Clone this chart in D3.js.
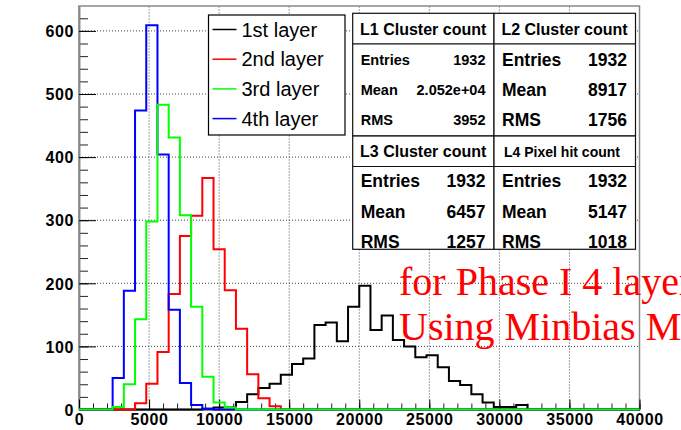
<!DOCTYPE html>
<html>
<head>
<meta charset="utf-8">
<script src="https://cdn.jsdelivr.net/npm/d3@7/dist/d3.min.js"></script>
<style>
    body { margin: 0; background: #fff; }
    svg { display: block; font-family: "Liberation Sans", Arial, Helvetica, sans-serif; }
</style>
</head>
<body>
<div id="chart"></div>
<script>
// histogram binning: 50 bins of 800 between 0 and 40000
const binWidth = 800;
const xTicks = [0, 5000, 10000, 15000, 20000, 25000, 30000, 35000, 40000];
const yTicks = [0, 100, 200, 300, 400, 500, 600];

// counts per bin
const layer1 = [0, 0, 0, 0, 0, 0, 0, 0, 0, 0,
                0, 1, 3, 3, 12, 24, 34, 41, 55, 72,
                81, 134, 138, 108, 163, 196, 126, 149, 110, 100,
                83, 86, 67, 45, 39, 24, 11, 4, 4, 7,
                0, 0, 0, 0, 0, 0, 0, 0, 0, 0];
const layer2 = [0, 0, 0, 0, 0, 10, 41, 91, 183, 275,
                307, 367, 254, 189, 128, 56, 18, 5, 0, 0,
                0, 0, 0, 0, 0, 0, 0, 0, 0, 0,
                0, 0, 0, 0, 0, 0, 0, 0, 0, 0,
                0, 0, 0, 0, 0, 0, 0, 0, 0, 0];
const layer3 = [0, 0, 0, 4, 40, 143, 298, 483, 431, 308,
                163, 52, 11, 3, 0, 0, 0, 0, 0, 0,
                0, 0, 0, 0, 0, 0, 0, 0, 0, 0,
                0, 0, 0, 0, 0, 0, 0, 0, 0, 0,
                0, 0, 0, 0, 0, 0, 0, 0, 0, 0];
const layer4 = [0, 0, 0, 50, 188, 474, 609, 404, 158, 42,
                7, 1, 0, 0, 0, 0, 0, 0, 0, 0,
                0, 0, 0, 0, 0, 0, 0, 0, 0, 0,
                0, 0, 0, 0, 0, 0, 0, 0, 0, 0,
                0, 0, 0, 0, 0, 0, 0, 0, 0, 0];

const legendLabels = ["1st layer", "2nd layer", "3rd layer", "4th layer"];
const layerColors = ["#000000", "#ff0000", "#00ff00", "#0000ff"];

// statistics boxes
const statTitles = ["L1 Cluster count", "L2 Cluster count", "L3 Cluster count", "L4 Pixel hit count"];
const statEntries = ["1932", "1932", "1932", "1932"];
const statMeans = ["2.052e+04", "8917", "6457", "5147"];
const statRms = ["3952", "1756", "1257", "1018"];

const noteLines = ["for Phase I 4 layers", "Using Minbias MC"];

class histChart {

    constructor(parentElement) {
        this.parentElement = parentElement;
        this.series = [layer1, layer2, layer3, layer4];
        this.initVis();
    }

    initVis() {
        let vis = this;

        vis.totalWidth = 681;
        vis.totalHeight = 430;
        vis.margin = { top: 6, right: 41.5, bottom: 20.5, left: 79 };
        vis.width = vis.totalWidth - vis.margin.left - vis.margin.right;
        vis.height = vis.totalHeight - vis.margin.top - vis.margin.bottom;

        vis.root = d3.select("#" + vis.parentElement)
            .append("svg")
            .attr("width", vis.totalWidth)
            .attr("height", vis.totalHeight);

        vis.root.append("rect")
            .attr("width", vis.totalWidth)
            .attr("height", vis.totalHeight)
            .attr("fill", "#fff");

        vis.svg = vis.root.append("g")
            .attr("transform", `translate(${vis.margin.left},${vis.margin.top})`);

        // scales (ROOT puts the max at 1.05 x the highest bin)
        vis.x = d3.scaleLinear()
            .domain([0, 40000])
            .range([0, vis.width]);

        vis.y = d3.scaleLinear()
            .domain([0, d3.max(vis.series, s => d3.max(s)) * 1.05])
            .range([vis.height, 0]);

        vis.drawGrid();
        vis.drawAxes();
        vis.drawHistograms();
        vis.drawLegend();
        vis.drawStats();
        vis.drawNote();
    }

    drawGrid() {
        let vis = this;

        vis.svg.append("g")
            .selectAll("line")
            .data(xTicks.filter(d => d > 0 && d < 40000))
            .join("line")
            .attr("x1", d => vis.x(d))
            .attr("x2", d => vis.x(d))
            .attr("y1", vis.height)
            .attr("y2", 0)
            .attr("stroke", "#444")
            .attr("stroke-dasharray", "1,2");

        vis.svg.append("g")
            .selectAll("line")
            .data(yTicks.filter(d => d > 0))
            .join("line")
            .attr("x1", 0)
            .attr("x2", vis.width)
            .attr("y1", d => vis.y(d))
            .attr("y2", d => vis.y(d))
            .attr("stroke", "#444")
            .attr("stroke-dasharray", "1,2");

        // frame
        vis.svg.append("rect")
            .attr("width", vis.width)
            .attr("height", vis.height)
            .attr("fill", "none")
            .attr("stroke", "#888")
            .attr("stroke-width", 1.5);
    }

    drawAxes() {
        let vis = this;

        // minor ticks
        vis.svg.append("g")
            .attr("class", "y-minor")
            .call(d3.axisLeft(vis.y).tickValues(d3.range(0, 621, 20)).tickSizeInner(-9).tickSizeOuter(0).tickFormat(""));
        vis.svg.append("g")
            .attr("class", "x-minor")
            .attr("transform", `translate(0,${vis.height})`)
            .call(d3.axisBottom(vis.x).tickValues(d3.range(0, 40001, 1000)).tickSizeInner(-6).tickSizeOuter(0).tickFormat(""));

        // major ticks + labels
        vis.yAxis = d3.axisLeft(vis.y)
            .tickValues(yTicks)
            .tickSizeInner(-17)
            .tickSizeOuter(0)
            .tickPadding(5)
            .tickFormat(d3.format("d"));

        vis.xAxis = d3.axisBottom(vis.x)
            .tickValues(xTicks)
            .tickSizeInner(-10)
            .tickSizeOuter(0)
            .tickPadding(6)
            .tickFormat(d3.format("d"));

        vis.svg.append("g")
            .attr("class", "y-axis axis")
            .call(vis.yAxis);

        vis.svg.append("g")
            .attr("class", "x-axis axis")
            .attr("transform", `translate(0,${vis.height})`)
            .call(vis.xAxis);

        vis.svg.selectAll(".y-minor line, .x-minor line")
            .attr("stroke", "#222");
        vis.svg.selectAll(".axis line").attr("stroke", "#000");
        vis.svg.selectAll(".domain").attr("stroke", "#888").attr("stroke-width", 1.5);

        vis.svg.selectAll(".axis text")
            .attr("font-size", 16)
            .attr("font-weight", "bold")
            .attr("letter-spacing", 0.6)
            .attr("fill", "#000");

        vis.svg.selectAll(".y-axis text")
            .attr("dy", "0.36em");
        vis.svg.selectAll(".x-axis text")
            .attr("dy", "0.62em");
    }

    drawHistograms() {
        let vis = this;

        let line = d3.line()
            .x(d => vis.x(d[0]))
            .y(d => vis.y(d[1]))
            .curve(d3.curveStepAfter);

        // drawing order as in the picture: black, red, blue, green on top
        let order = [0, 1, 3, 2];
        order.forEach(i => {
            let counts = vis.series[i];
            let pts = counts.map((c, k) => [k * binWidth, c]);
            pts.push([counts.length * binWidth, counts[counts.length - 1]]);
            vis.svg.append("path")
                .datum(pts)
                .attr("d", line)
                .attr("fill", "none")
                .attr("stroke", layerColors[i])
                .attr("stroke-width", 2);
        });
    }

    drawLegend() {
        let vis = this;

        let lg = vis.root.append("g").attr("transform", "translate(208.5,15)");
        lg.append("rect")
            .attr("width", 136.5)
            .attr("height", 120)
            .attr("fill", "#fff")
            .attr("stroke", "#000")
            .attr("stroke-width", 1.2);

        let rows = lg.selectAll("g.entry")
            .data(legendLabels)
            .join("g")
            .attr("class", "entry")
            .attr("transform", (d, i) => `translate(0,${14.5 + i * 29.7})`);

        rows.append("line")
            .attr("x1", 4)
            .attr("x2", 28)
            .attr("stroke", (d, i) => layerColors[i])
            .attr("stroke-width", 1.5);

        rows.append("text")
            .attr("x", 33)
            .attr("y", 7)
            .attr("font-size", 20)
            .attr("fill", "#000")
            .text(d => d);
    }

    drawStats() {
        let vis = this;

        let boxes = [
            { x: 352.7, y: 13.3, w: 141.3, h: 122.7, titleSize: 16, titleX: 70.5, textSize: 14.5, top: 46.5, gap: 30 },
            { x: 494, y: 13.3, w: 141.5, h: 122.7, titleSize: 16, titleX: 70.5, textSize: 17.5, top: 46.5, gap: 30 },
            { x: 352.7, y: 136, w: 141.3, h: 113.3, titleSize: 16, titleX: 70.5, textSize: 17.5, top: 45, gap: 30.3 },
            { x: 494, y: 136, w: 141.5, h: 113.3, titleSize: 14, titleX: 68, textSize: 17.5, top: 45, gap: 30.3 }
        ];

        boxes.forEach((b, i) => {
            let g = vis.root.append("g").attr("transform", `translate(${b.x},${b.y})`);
            g.append("rect")
                .attr("width", b.w)
                .attr("height", b.h)
                .attr("fill", "#fff")
                .attr("stroke", "#111")
                .attr("stroke-width", 1.2);
            g.append("line")
                .attr("x1", 0).attr("x2", b.w)
                .attr("y1", 30.5).attr("y2", 30.5)
                .attr("stroke", "#111")
                .attr("stroke-width", 1.2);
            g.append("text")
                .attr("x", b.titleX)
                .attr("y", 15.5)
                .attr("dy", "0.36em")
                .attr("text-anchor", "middle")
                .attr("font-weight", "bold")
                .attr("font-size", b.titleSize)
                .text(statTitles[i]);

            let labels = ["Entries", "Mean", "RMS"];
            let values = [statEntries[i], statMeans[i], statRms[i]];
            labels.forEach((lab, k) => {
                let cy = b.top + k * b.gap;
                g.append("text")
                    .attr("x", 8)
                    .attr("y", cy)
                    .attr("dy", "0.36em")
                    .attr("font-weight", "bold")
                    .attr("font-size", b.textSize)
                    .text(lab);
                g.append("text")
                    .attr("x", b.w - 8.5)
                    .attr("y", cy)
                    .attr("dy", "0.36em")
                    .attr("text-anchor", "end")
                    .attr("font-weight", "bold")
                    .attr("font-size", b.textSize)
                    .text(values[k]);
            });
        });
    }

    drawNote() {
        let vis = this;

        // the note runs past the right edge of the canvas, as in the original
        vis.root.selectAll("text.note")
            .data(noteLines)
            .join("text")
            .attr("class", "note")
            .attr("x", 399)
            .attr("y", (d, i) => 295 + i * 45)
            .attr("font-family", "'Liberation Serif', 'Times New Roman', serif")
            .attr("font-size", 40)
            .attr("fill", "#ff0000")
            .text(d => d);
    }
}

new histChart("chart");
</script>
</body>
</html>
